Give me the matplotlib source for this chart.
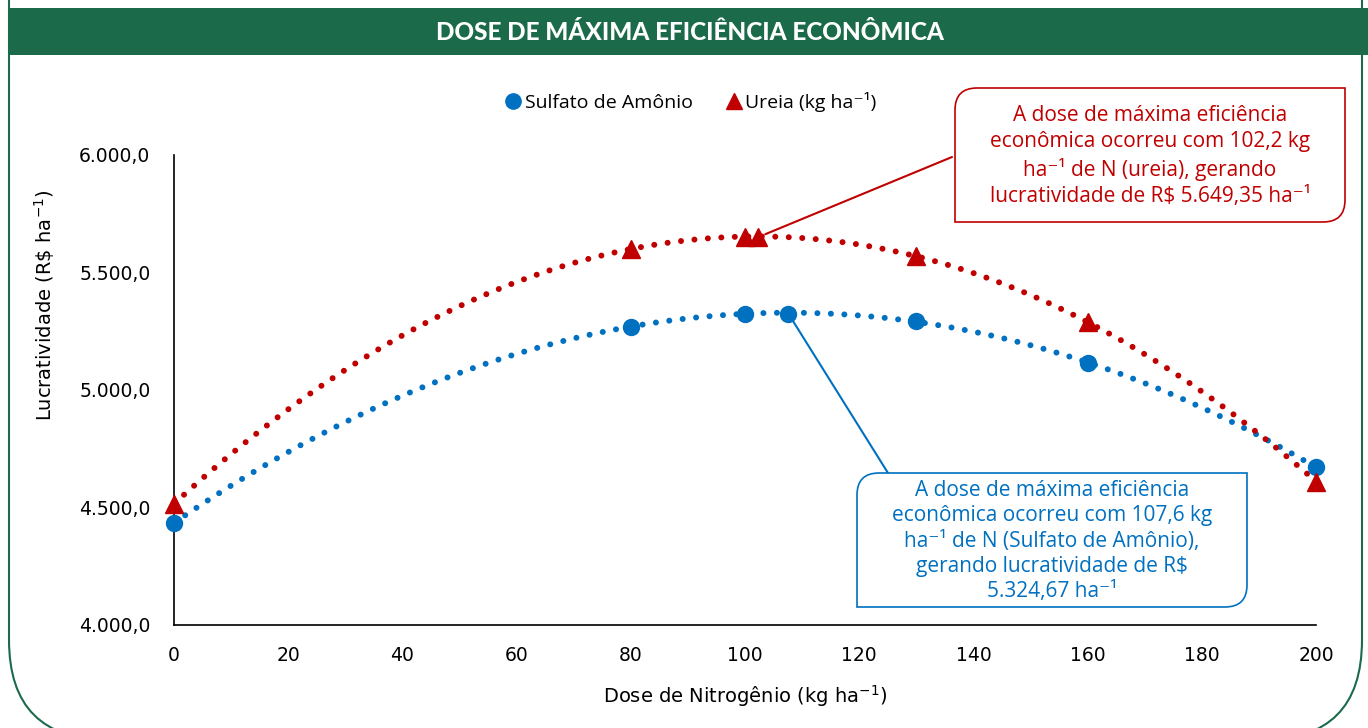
import matplotlib
matplotlib.use('Agg')
import matplotlib.pyplot as plt
import numpy as np
from matplotlib.patches import FancyBboxPatch, Rectangle, PathPatch
from matplotlib.path import Path
from matplotlib.transforms import IdentityTransform
from matplotlib.lines import Line2D

# dados
doses = [0, 80, 100, 130, 160, 200]
lucro_sulfato = [4435, 5269, 5323, 5294, 5116, 4671]
lucro_ureia = [4516, 5601, 5650, 5570, 5291, 4610]
dose_max_sulfato, lucro_max_sulfato = 107.6, 5324.67
dose_max_ureia, lucro_max_ureia = 102.2, 5649.35

x_ticks = list(range(0, 201, 20))
y_ticks = [4000, 4500, 5000, 5500, 6000]
y_labels = ['4.000,0', '4.500,0', '5.000,0', '5.500,0', '6.000,0']

azul = '#0070C0'
vermelho = '#C00000'
verde = '#1B6B4A'

fig = plt.figure(figsize=(13.68, 7.28), dpi=100)
px = IdentityTransform()

# moldura e faixa do titulo
frame = FancyBboxPatch((9, -12), 1353, 900, boxstyle="round,pad=0,rounding_size=100",
                       transform=px, fc='white', ec=verde, lw=1.5, zorder=-5)
fig.add_artist(frame)
fig.add_artist(Rectangle((8, 673), 1400, 47, transform=px, fc=verde, ec='none', zorder=-4))
fig.text(690 / 1368, 696 / 728, 'DOSE DE MÁXIMA EFICIÊNCIA ECONÔMICA', color='white',
         fontsize=17.5, fontweight='black', family='Lato', ha='center', va='center')

ax = fig.add_axes([174 / 1368, 103 / 728, 1142 / 1368, 470 / 728])
ax.set_facecolor('none')

# linhas de tendencia polinomiais (grau 2)
xs = np.linspace(0, 200, 400)
for y, cor in [(lucro_sulfato, azul), (lucro_ureia, vermelho)]:
    coef = np.polyfit(doses, y, 2)
    ax.plot(xs, np.polyval(coef, xs), color=cor, lw=4.3, dashes=(0.01, 2.25),
            dash_capstyle='round', zorder=2)

ax.plot(doses + [dose_max_sulfato], lucro_sulfato + [lucro_max_sulfato], 'o', color=azul,
        ms=11.5, zorder=3, clip_on=False)
ax.plot(doses + [dose_max_ureia], lucro_ureia + [lucro_max_ureia], '^', color=vermelho,
        ms=12.5, zorder=3, clip_on=False)

ax.set_xlim(0, 200)
ax.set_ylim(4000, 6000)
ax.set_xticks(x_ticks)
ax.set_yticks(y_ticks)
ax.set_yticklabels(y_labels)
for s in ['top', 'right']:
    ax.spines[s].set_visible(False)
for s in ['left', 'bottom']:
    ax.spines[s].set_linewidth(1.2)
ax.tick_params(axis='both', length=0, labelsize=13.5)
ax.tick_params(axis='y', pad=17)
ax.tick_params(axis='x', pad=15)

ax.set_xlabel('Dose de Nitrogênio (kg ha$^{-1}$)', fontsize=14)
ax.set_ylabel('Lucratividade (R\\$ ha$^{-1}$)', fontsize=14)
ax.xaxis.set_label_coords(0.5, -0.152)
ax.xaxis.label.set_va('center')
ax.yaxis.set_label_coords(-0.113, 0.68)
ax.yaxis.label.set_va('center')

# legenda
handles = [Line2D([], [], marker='o', ls='none', color=azul, ms=11),
           Line2D([], [], marker='^', ls='none', color=vermelho, ms=12)]
fig.legend(handles, ['Sulfato de Amônio', 'Ureia (kg ha⁻¹)'], ncol=2, frameon=False,
           loc='center', bbox_to_anchor=(690 / 1368, 626 / 728),
           handletextpad=0.1, columnspacing=1.6, handlelength=1.0,
           prop={'family': ['Open Sans', 'DejaVu Sans'], 'size': 14})


def caixa(x0, y0, x1, y1, r, cor):
    verts = [(x0, y0), (x1 - r, y0), (x1, y0), (x1, y0 + r), (x1, y1),
             (x0 + r, y1), (x0, y1), (x0, y1 - r), (x0, y0)]
    codes = [Path.MOVETO, Path.LINETO, Path.CURVE3, Path.CURVE3, Path.LINETO,
             Path.LINETO, Path.CURVE3, Path.CURVE3, Path.CLOSEPOLY]
    fig.add_artist(PathPatch(Path(verts, codes), transform=px, fc='white', ec=cor,
                             lw=1.2, zorder=4))


fonte = ['Open Sans', 'DejaVu Sans']

# caixa ureia
caixa(955, 506, 1345, 640, 22, vermelho)
ax.annotate('', xy=(dose_max_ureia, lucro_max_ureia), xytext=(952, 571),
            textcoords='figure pixels', arrowprops=dict(arrowstyle='-', color=vermelho, lw=1.5,
                                                        shrinkA=0, shrinkB=6), zorder=4)
fig.text(1150 / 1368, 572 / 728,
         'A dose de máxima eficiência\neconômica ocorreu com 102,2 kg\n'
         'ha⁻¹ de N (ureia), gerando\nlucratividade de R$ 5.649,35 ha⁻¹',
         color=vermelho, family=fonte, fontsize=15, ha='center', va='center',
         linespacing=1.33, zorder=5)

# caixa sulfato
caixa(857, 121, 1247, 255, 22, azul)
ax.annotate('', xy=(dose_max_sulfato, lucro_max_sulfato), xytext=(888, 255),
            textcoords='figure pixels', arrowprops=dict(arrowstyle='-', color=azul, lw=1.5,
                                                        shrinkA=0, shrinkB=6), zorder=4)
fig.text(1052 / 1368, 187 / 728,
         'A dose de máxima eficiência\neconômica ocorreu com 107,6 kg\n'
         'ha⁻¹ de N (Sulfato de Amônio),\ngerando lucratividade de R$\n5.324,67 ha⁻¹',
         color=azul, family=fonte, fontsize=15, ha='center', va='center',
         linespacing=1.27, zorder=5)

fig.savefig('out.png', dpi=100)
